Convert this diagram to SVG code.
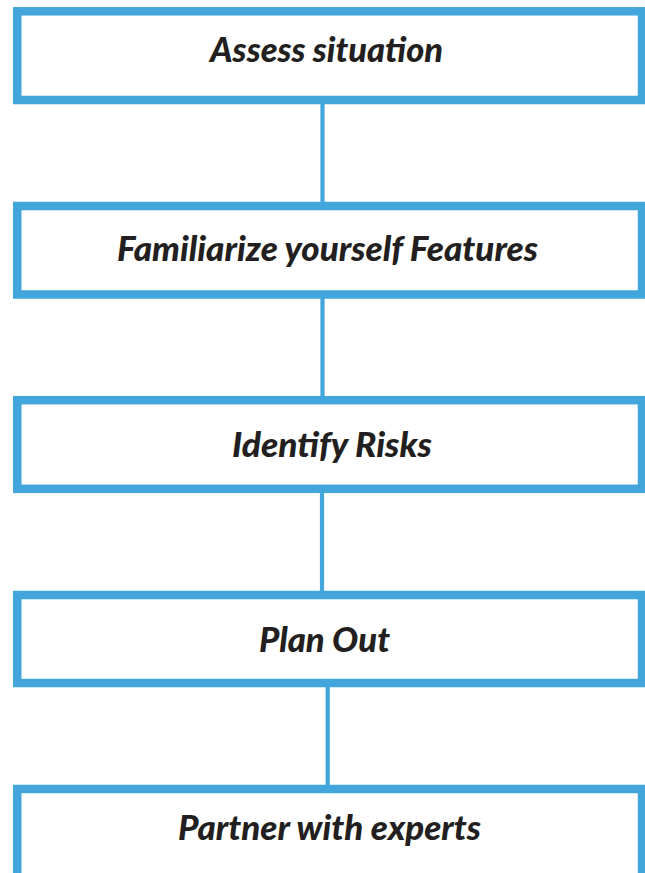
<svg xmlns="http://www.w3.org/2000/svg" width="645" height="873" viewBox="0 0 645 873">
<style>
.box{fill:#ffffff;stroke:#42a5dc;stroke-width:8.5}
.conn{stroke:#42a5dc;stroke-width:4.2;fill:none}
.lbl{font-family:Lato,"Liberation Sans",sans-serif;font-weight:900;font-style:italic;font-size:34px;fill:#231f20;text-anchor:middle}
</style>
<rect width="645" height="873" fill="#ffffff"/>
<g id="connectors">
<line class="conn" x1="322.5" y1="104" x2="322.5" y2="202"/>
<line class="conn" x1="322.5" y1="298" x2="322.5" y2="396"/>
<line class="conn" x1="322" y1="493" x2="322" y2="591"/>
<line class="conn" x1="327.7" y1="687" x2="327.7" y2="785"/>
</g>
<g id="n1"><rect class="box" x="17.25" y="11.3" width="624.75" height="88.7"/><text class="lbl" x="326.5" y="62" textLength="233" lengthAdjust="spacingAndGlyphs">Assess situation</text></g>
<g id="n2"><rect class="box" x="17.25" y="206" width="624.75" height="88.5"/><text class="lbl" x="327.5" y="261" textLength="421" lengthAdjust="spacingAndGlyphs">Familiarize yourself Features</text></g>
<g id="n3"><rect class="box" x="17.25" y="400.2" width="624.75" height="88.6"/><text class="lbl" x="332" y="457" textLength="200" lengthAdjust="spacingAndGlyphs">Identify Risks</text></g>
<g id="n4"><rect class="box" x="17.25" y="595" width="624.75" height="88"/><text class="lbl" x="324.5" y="652" textLength="131" lengthAdjust="spacingAndGlyphs">Plan Out</text></g>
<g id="n5"><rect class="box" x="17.25" y="789" width="624.75" height="120"/><text class="lbl" x="329.5" y="840" textLength="303" lengthAdjust="spacingAndGlyphs">Partner with experts</text></g>
</svg>
